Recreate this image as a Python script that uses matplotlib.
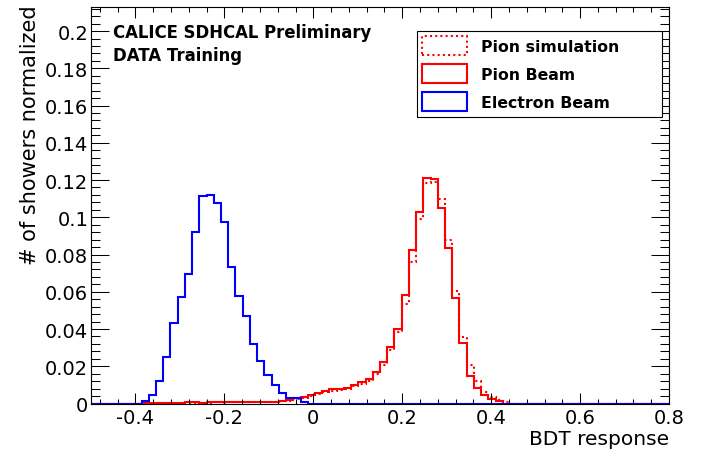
import numpy as np
import matplotlib
matplotlib.use("Agg")
import matplotlib.pyplot as plt
from matplotlib.patches import Patch
from matplotlib.ticker import MultipleLocator, FormatStrFormatter

plt.rcParams['font.family'] = ['DejaVu Sans']

# ---- binning of the BDT response axis ----
x_min, x_max, n_bins = -0.5, 0.8, 80

# ---- histogram contents (normalized), listed from a first bin index ----
electron_start = 7
electron_beam = [0.0012, 0.0048, 0.0122, 0.025, 0.0434, 0.057, 0.0693, 0.092,
                 0.1114, 0.1122, 0.1076, 0.0977, 0.0733, 0.0575, 0.0468, 0.0322,
                 0.0227, 0.0152, 0.0102, 0.0059, 0.0032, 0.0027, 0.001]

pion_beam_start = 7
pion_beam = [0.0004, 0.0004, 0.0005, 0.0004, 0.0005, 0.0005,
             0.0006, 0.0006, 0.0005, 0.0006, 0.0007, 0.0006, 0.0007,
             0.0008, 0.0007, 0.0008, 0.0009, 0.0008,
             0.0010, 0.0015, 0.0018, 0.0027,
             0.0035, 0.0045, 0.0058, 0.0069, 0.0076, 0.008, 0.0085, 0.0101,
             0.0116, 0.0134, 0.017, 0.0225, 0.0302, 0.0398, 0.058, 0.0822,
             0.1028, 0.121, 0.1206, 0.1052, 0.0833, 0.0565, 0.0326, 0.015,
             0.0084, 0.0043, 0.0023, 0.0011]

pion_sim_start = 7
pion_sim = [0.0003, 0.0003, 0.0004, 0.0003, 0.0004, 0.0004,
            0.0005, 0.0004, 0.0005, 0.0005, 0.0006, 0.0005, 0.0006,
            0.0006, 0.0007, 0.0006, 0.0007, 0.0008,
            0.0009, 0.0012, 0.0015, 0.0022,
            0.003, 0.004, 0.0051, 0.0061, 0.0069, 0.0074, 0.008, 0.0092,
            0.0106, 0.0123, 0.0156, 0.0208, 0.0286, 0.0384, 0.0536, 0.076,
            0.0992, 0.1183, 0.1188, 0.1096, 0.0876, 0.0602, 0.0358, 0.0205,
            0.012, 0.0063, 0.0034, 0.0018, 0.0008]

labels = ["Pion simulation", "Pion Beam", "Electron Beam"]
x_ticks = [-0.4, -0.2, 0, 0.2, 0.4, 0.6, 0.8]
y_ticks = [0, 0.02, 0.04, 0.06, 0.08, 0.1, 0.12, 0.14, 0.16, 0.18, 0.2]


def full(start, vals):
    h = np.zeros(n_bins)
    h[start:start + len(vals)] = vals
    return h


edges = np.linspace(x_min, x_max, n_bins + 1)

fig = plt.figure(figsize=(7.04, 4.56), dpi=100)
ax = fig.add_axes([91 / 704, 1 - 404.5 / 456, 578 / 704, 397 / 456])

ax.stairs(full(pion_sim_start, pion_sim), edges, color="#ff0000", lw=1.5,
          linestyle=(0, (1, 1.5)), baseline=None)
ax.stairs(full(pion_beam_start, pion_beam), edges, color="#ff0000", lw=1.5,
          baseline=None)
ax.stairs(full(electron_start, electron_beam), edges, color="#0000ff", lw=1.5,
          baseline=None)

ax.set_xlim(x_min, x_max)
ax.set_ylim(0, 0.2132)
ax.set_xticks(x_ticks)
ax.set_yticks(y_ticks)
ax.xaxis.set_minor_locator(MultipleLocator(0.04))
ax.yaxis.set_minor_locator(MultipleLocator(0.004))
ax.yaxis.set_major_formatter(FormatStrFormatter('%g'))
ax.xaxis.set_major_formatter(FormatStrFormatter('%g'))

for s in ax.spines.values():
    s.set_linewidth(0.8)
ax.tick_params(axis='both', which='both', direction='in', top=True, right=True,
               width=0.75, colors='black')
ax.tick_params(axis='x', which='major', length=8, pad=3, labelsize=14)
ax.tick_params(axis='x', which='minor', length=3.7)
ax.tick_params(axis='y', which='major', length=13, pad=2, labelsize=14)
ax.tick_params(axis='y', which='minor', length=6.5)

ax.set_xlabel("BDT response", fontsize=14.5, loc='right', labelpad=2)
ax.set_ylabel("# of showers normalized", fontsize=15, loc='top')
ax.yaxis.set_label_coords((40 - 91) / 578, 1.006)

ax.text((113 - 91) / 578, (404.5 - 37.7) / 397, "CALICE SDHCAL Preliminary",
        transform=ax.transAxes, fontsize=11.9, fontweight='bold',
        ha='left', va='baseline')
ax.text((113 - 91) / 578, (404.5 - 61) / 397, "DATA Training",
        transform=ax.transAxes, fontsize=11.9, fontweight='bold',
        ha='left', va='baseline')

handles = [Patch(facecolor='none', edgecolor='#ff0000', lw=1.5, linestyle=(0, (1, 1.5))),
           Patch(facecolor='none', edgecolor='#ff0000', lw=1.5),
           Patch(facecolor='none', edgecolor='#0000ff', lw=1.5)]
leg = ax.legend(handles, labels, loc='upper left',
                bbox_to_anchor=(416.7 / 704, 1 - 129.3 / 456, 245 / 704, 97.6 / 456),
                bbox_transform=fig.transFigure, mode='expand',
                prop={'weight': 'bold', 'size': 11.3},
                handlelength=2.87, handleheight=1.47, labelspacing=0.59,
                handletextpad=0.9, borderpad=0.35, borderaxespad=0,
                fancybox=False, shadow=False, framealpha=1, edgecolor='black')
leg.get_frame().set_linewidth(0.8)

fig.savefig("out.png", dpi=100)
